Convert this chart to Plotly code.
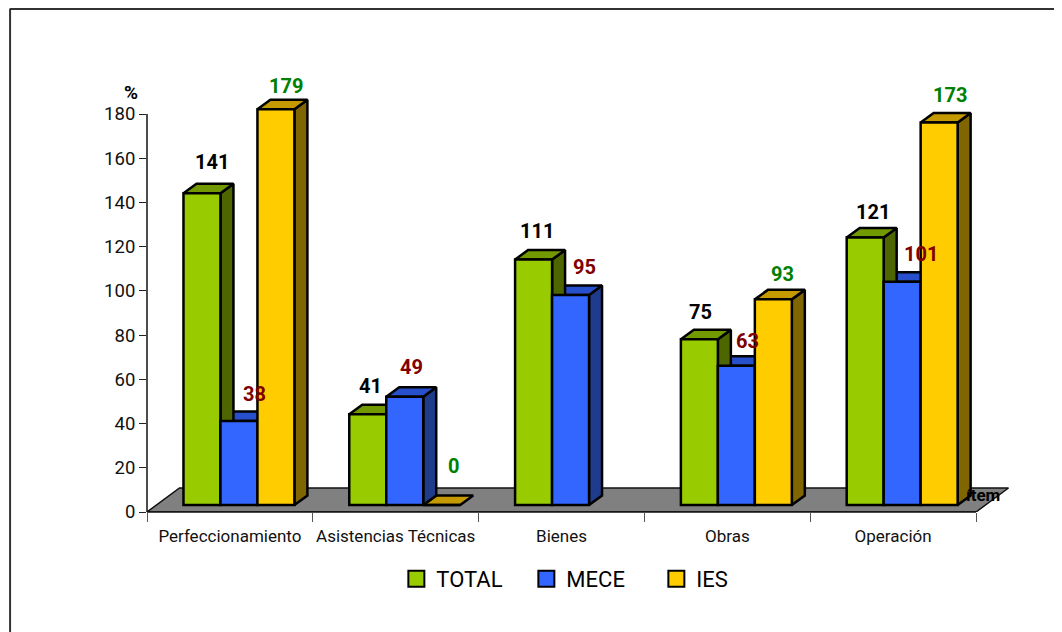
import plotly.graph_objects as go

categories = ["Perfeccionamiento", "Asistencias Técnicas", "Bienes", "Obras", "Operación"]
total = [141, 41, 111, 75, 121]
mece = [38, 49, 95, 63, 101]
ies = [179, 0, None, 93, 173]
series_names = ["TOTAL", "MECE", "IES"]
yticks = list(range(0, 181, 20))

# window geometry (px) and style
FONT = "Roboto, Liberation Sans, sans-serif"
PLOT_L, PLOT_R, PLOT_T, PLOT_B = 146.5, 1012, 80, 512
PXX = (976 - 146.5) / 5
PXY = (512 - 114) / 180
XMAX = (PLOT_R - PLOT_L) / PXX
YMAX = (PLOT_B - PLOT_T) / PXY
BW = 37 / PXX
GAP_L = (183 - 146.5) / PXX
DX = 13 / PXX
DY = 9.5 / PXY
BASE = 7 / PXY
EDGE = 2.5
front = ["#99CC00", "#3366FF", "#FFCC00"]
topc = ["#739900", "#2850CC", "#C49A00"]
side = ["#4D6600", "#1F3B8C", "#806600"]
label_col = ["#000000", "#800000", "#008000"]
label_shift = [
    [(10.5, 31), (15.5, 27), (10.5, 23)],
    [(2.5, 28), (6.5, 30), (11.5, 39)],
    [(3.5, 28.6), (13.5, 28), None],
    [(1.5, 27), (11.5, 24.7), (9.5, 25)],
    [(7.5, 25.5), (18.5, 27.7), (10.5, 27)],
]


def px(x):
    return (x - PLOT_L) / (PLOT_R - PLOT_L)


def py(y):
    return (PLOT_B - y) / (PLOT_B - PLOT_T)


fig = go.Figure()
# floor
fig.add_trace(go.Scatter(
    x=[0, 5, 5 + 32.5 / PXX, 32.5 / PXX, 0], y=[0, 0, 24 / PXY, 24 / PXY, 0],
    mode="lines", fill="toself", fillcolor="#808080",
    line=dict(color="#111111", width=1.5), showlegend=False, hoverinfo="skip"))

anns = []
series = [total, mece, ies]
for s in [2, 1, 0]:
    for c, v in enumerate(series[s]):
        if v is None:
            continue
        x0 = c + GAP_L + s * BW
        x1 = x0 + BW
        t = v + BASE
        if v > 0:
            fig.add_trace(go.Scatter(
                x=[x1, x1 + DX, x1 + DX, x1, x1], y=[BASE, BASE + DY, t + DY, t, BASE],
                mode="lines", fill="toself", fillcolor=side[s],
                line=dict(color="#000000", width=EDGE), showlegend=False, hoverinfo="skip"))
        fig.add_trace(go.Scatter(
            x=[x0, x0 + DX, x1 + DX, x1, x0], y=[t, t + DY, t + DY, t, t],
            mode="lines", fill="toself", fillcolor=topc[s],
            line=dict(color="#000000", width=EDGE), showlegend=False, hoverinfo="skip"))

# front faces on an overlaying pair of axes, so they sit above the side faces
for s in range(3):
    fig.add_trace(go.Bar(
        x=[c + GAP_L + (s + 0.5) * BW for c in range(5)], y=series[s], base=BASE, width=BW,
        marker=dict(color=front[s], line=dict(color="#000000", width=EDGE)),
        showlegend=False, name=series_names[s], xaxis="x2", yaxis="y2"))

for s in range(3):
    fig.add_trace(go.Scatter(x=[None], y=[None], mode="markers", name=series_names[s],
                             marker=dict(symbol="square", size=16, color=front[s],
                                         line=dict(color="#000000", width=2))))
    for c, v in enumerate(series[s]):
        if v is None:
            continue
        sx, sy = label_shift[c][s]
        anns.append(dict(x=c + GAP_L + (s + 0.5) * BW, y=v + BASE, text=str(v), showarrow=False,
                         xref="x", yref="y", xshift=sx, yshift=sy,
                         font=dict(family=FONT, size=20, color=label_col[s], weight="bold")))

anns.append(dict(x=px(130), y=py(92), xref="paper", yref="paper", text="%", showarrow=False,
                 xanchor="center", yanchor="middle",
                 font=dict(family=FONT, size=19, color="#000000", weight="bold")))
anns.append(dict(x=px(983), y=py(495), xref="paper", yref="paper", text="ítem", showarrow=False,
                 xanchor="center", yanchor="middle",
                 font=dict(family=FONT, size=17, color="#000000", weight="bold")))

axis_line = dict(color="#111111", width=1.5)
frame = dict(color="#333333", width=2)
fig.update_layout(
    width=1054, height=624, autosize=False,
    margin=dict(l=PLOT_L - 8, r=1062 - PLOT_R, t=PLOT_T - 8, b=632 - PLOT_B, autoexpand=False),
    paper_bgcolor="#FFFFFF", plot_bgcolor="rgba(0,0,0,0)",
    barmode="overlay",
    font=dict(family=FONT, color="#111111"),
    annotations=anns,
    xaxis=dict(type="linear", range=[0, XMAX], tickmode="array", tickvals=[c + 0.5 for c in range(5)],
               ticktext=categories, ticks="outside", ticklen=9, tickcolor="rgba(0,0,0,0)",
               showgrid=False, zeroline=False, showline=False,
               tickfont=dict(size=17, family=FONT, color="#111111"),
               minor=dict(tickvals=list(range(6)), ticks="outside", ticklen=9, tickcolor="#555555",
                          tickwidth=1, showgrid=False)),
    yaxis=dict(type="linear", range=[0, YMAX], tickmode="array", tickvals=yticks, ticks="outside", ticklen=7,
               tickcolor="#222222", showgrid=False, zeroline=False, showline=False,
               tickfont=dict(size=18.5, family=FONT, color="#111111")),
    xaxis2=dict(type="linear", range=[0, XMAX], overlaying="x", anchor="y2", visible=False),
    yaxis2=dict(type="linear", range=[0, YMAX], overlaying="y", anchor="x2", visible=False),
    legend=dict(orientation="h", x=px(396), y=py(558), xanchor="left", yanchor="top",
                font=dict(size=22, family=FONT, color="#000000"), entrywidth=85, entrywidthmode="pixels",
                bgcolor="rgba(0,0,0,0)", itemsizing="trace"),
    shapes=[
        dict(type="line", xref="paper", yref="y", x0=0, x1=0, y0=0, y1=180, line=axis_line),
        dict(type="line", xref="x", yref="paper", x0=0, x1=5, y0=0, y1=0, line=axis_line),
        dict(type="line", xref="paper", yref="paper", x0=px(9.5), x1=px(9.5), y0=py(640), y1=py(9), line=frame),
        dict(type="line", xref="paper", yref="paper", x0=px(9), x1=px(1070), y0=py(9), y1=py(9), line=frame),
    ],
)
fig.write_html("out.html")
